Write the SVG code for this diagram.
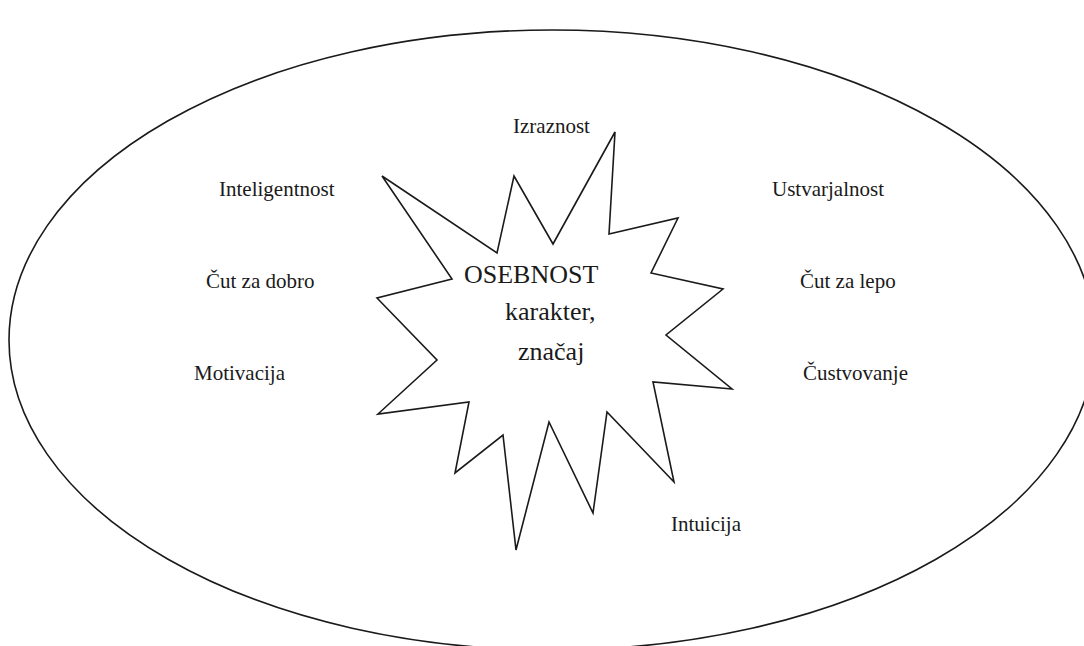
<svg xmlns="http://www.w3.org/2000/svg" width="1084" height="646" viewBox="0 0 1084 646">
<style>
.shape{fill:#fff;stroke:#1a1a1a;stroke-width:1.6;stroke-linejoin:miter}
.lbl{font-family:"Liberation Serif","Times New Roman",serif;font-size:21px;fill:#1a1a1a}
.big{font-family:"Liberation Serif","Times New Roman",serif;font-size:26px;fill:#1a1a1a}
</style>
<rect width="1084" height="646" fill="#fff"/>
<g id="oval">
<ellipse class="shape" cx="552" cy="340" rx="543" ry="310"/>
</g>
<g id="connectors"></g>
<g id="star">
<polygon class="shape" points="382,176 497,253 514,176 553,244 615,132 609,234 678,218 651,273 723,289 666,335 732,389 653,382 674,482 607,412 593,513 549,422 516,550 503,435 455,473 469,402 378,414 437,360 377,298 452,279"/>
<text class="big" x="464" y="283">OSEBNOST</text>
<text class="big" x="505" y="320">karakter,</text>
<text class="big" x="518" y="360">značaj</text>
</g>
<g id="izraznost"><text class="lbl" x="513" y="133">Izraznost</text></g>
<g id="inteligentnost"><text class="lbl" x="219" y="196">Inteligentnost</text></g>
<g id="cut-za-dobro"><text class="lbl" x="206" y="288">Čut za dobro</text></g>
<g id="motivacija"><text class="lbl" x="194" y="380">Motivacija</text></g>
<g id="ustvarjalnost"><text class="lbl" x="772" y="196">Ustvarjalnost</text></g>
<g id="cut-za-lepo"><text class="lbl" x="800" y="288">Čut za lepo</text></g>
<g id="custvovanje"><text class="lbl" x="803" y="380">Čustvovanje</text></g>
<g id="intuicija"><text class="lbl" x="671" y="531">Intuicija</text></g>
</svg>
